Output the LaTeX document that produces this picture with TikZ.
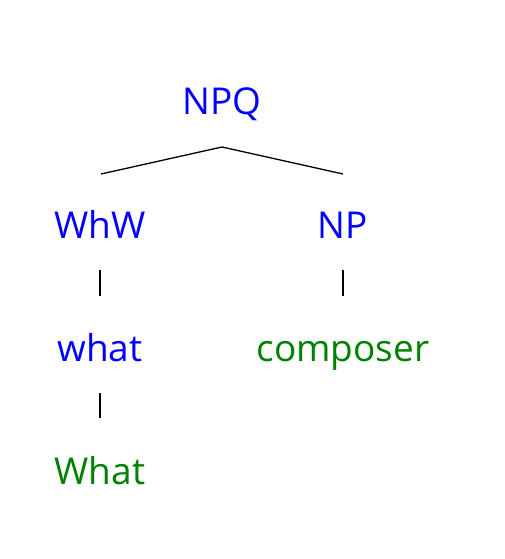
\documentclass[tikz,border=0pt]{standalone}
\usepackage{fontspec}
\setmainfont{Open Sans}
\definecolor{nblue}{RGB}{0,0,255}
\definecolor{ngreen}{RGB}{0,128,0}
\begin{document}
\begin{tikzpicture}[x=1pt,y=-1pt,
  lab/.style={anchor=base,inner sep=0pt,font=\fontsize{37}{44}\selectfont},
  cat/.style={lab,text=nblue},
  word/.style={lab,text=ngreen},
  edge/.style={draw=black,line width=1.3pt}]
\useasboundingbox (0,0) rectangle (505,559);
\node[cat] (npq) at (222,115) {NPQ};
\node[cat] (whw) at (100,238) {WhW};
\node[cat] (np) at (343,238) {NP};
\node[cat] (what) at (100,361) {what};
\node[word] (composer) at (343,361) {composer};
\node[word] (What) at (100,484) {What};
\coordinate (top) at (222,147);
\coordinate (l1) at (101,174);
\coordinate (r1) at (343,174);
\coordinate (a1) at (100,270);
\coordinate (a2) at (100,296);
\coordinate (b1) at (343,270);
\coordinate (b2) at (343,296);
\coordinate (c1) at (100,393);
\coordinate (c2) at (100,418);
\draw[edge] (l1) -- (top) -- (r1);
\draw[edge] (a1) -- (a2);
\draw[edge] (b1) -- (b2);
\draw[edge] (c1) -- (c2);
\end{tikzpicture}
\end{document}
